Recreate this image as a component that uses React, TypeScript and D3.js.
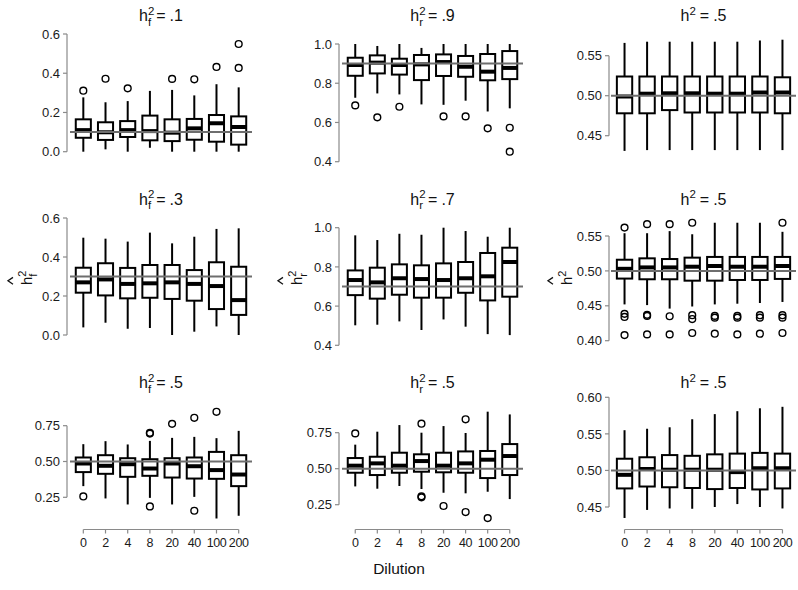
import React from 'react';
import * as d3 from 'd3';

const dilution = ['0', '2', '4', '8', '20', '40', '100', '200'];

// each box: [lower whisker, Q1, median, Q3, upper whisker]
const hf1Stats = [
  [0.000, 0.071, 0.110, 0.165, 0.277],
  [0.012, 0.060, 0.099, 0.150, 0.252],
  [0.000, 0.075, 0.110, 0.156, 0.258],
  [0.020, 0.058, 0.105, 0.184, 0.310],
  [0.000, 0.054, 0.097, 0.165, 0.315],
  [0.000, 0.061, 0.119, 0.167, 0.287],
  [0.000, 0.051, 0.145, 0.187, 0.344],
  [0.000, 0.036, 0.126, 0.180, 0.328],
];
const hf1Out = [[0.311], [0.372], [0.323], [], [0.371], [0.369], [0.432], [0.427, 0.549]];

const hr9Stats = [
  [0.726, 0.838, 0.893, 0.930, 1.000],
  [0.748, 0.850, 0.905, 0.942, 0.990],
  [0.743, 0.844, 0.893, 0.925, 1.000],
  [0.692, 0.816, 0.896, 0.944, 0.980],
  [0.690, 0.837, 0.908, 0.947, 1.000],
  [0.711, 0.833, 0.884, 0.939, 1.000],
  [0.656, 0.815, 0.859, 0.949, 1.000],
  [0.672, 0.821, 0.878, 0.964, 1.000],
];
const hr9Out = [[0.687], [0.626], [0.680], [], [0.631], [0.631], [0.570], [0.573, 0.451]];

const h2aStats = [
  [0.431, 0.478, 0.499, 0.524, 0.566],
  [0.432, 0.478, 0.5025, 0.524, 0.5675],
  [0.432, 0.482, 0.503, 0.524, 0.5675],
  [0.432, 0.479, 0.503, 0.524, 0.5675],
  [0.432, 0.479, 0.5025, 0.524, 0.5675],
  [0.432, 0.479, 0.5025, 0.524, 0.5675],
  [0.432, 0.479, 0.504, 0.524, 0.569],
  [0.432, 0.478, 0.504, 0.523, 0.570],
];
const h2aOut = [[], [], [], [], [], [], [], []];

const hf3Stats = [
  [0.039, 0.217, 0.270, 0.345, 0.499],
  [0.063, 0.203, 0.285, 0.368, 0.494],
  [0.032, 0.188, 0.262, 0.344, 0.479],
  [0.036, 0.191, 0.265, 0.359, 0.525],
  [0.000, 0.185, 0.270, 0.359, 0.470],
  [0.017, 0.176, 0.262, 0.333, 0.504],
  [0.044, 0.133, 0.251, 0.373, 0.544],
  [0.000, 0.103, 0.179, 0.350, 0.547],
];
const hf3Out = [[], [], [], [], [], [], [], []];

const hr7Stats = [
  [0.502, 0.656, 0.733, 0.782, 0.961],
  [0.505, 0.638, 0.721, 0.796, 0.937],
  [0.522, 0.658, 0.742, 0.813, 0.969],
  [0.478, 0.643, 0.738, 0.808, 0.964],
  [0.532, 0.643, 0.733, 0.818, 1.000],
  [0.495, 0.668, 0.742, 0.825, 0.983],
  [0.457, 0.629, 0.752, 0.871, 0.954],
  [0.452, 0.648, 0.825, 0.898, 1.000],
];
const hr7Out = [[], [], [], [], [], [], [], []];

const h2bStats = [
  [0.452, 0.489, 0.503, 0.516, 0.554],
  [0.451, 0.488, 0.505, 0.518, 0.554],
  [0.446, 0.488, 0.505, 0.517, 0.557],
  [0.449, 0.486, 0.506, 0.519, 0.5525],
  [0.452, 0.486, 0.507, 0.520, 0.569],
  [0.453, 0.487, 0.506, 0.520, 0.569],
  [0.454, 0.487, 0.506, 0.520, 0.569],
  [0.4555, 0.4885, 0.507, 0.520, 0.556],
];
const h2bOut = [
  [0.562, 0.4385, 0.434, 0.408],
  [0.567, 0.437, 0.4355, 0.409],
  [0.567, 0.435, 0.409],
  [0.569, 0.4365, 0.431, 0.411],
  [0.4355, 0.433, 0.410],
  [0.4355, 0.433, 0.409],
  [0.4365, 0.433, 0.410],
  [0.569, 0.4365, 0.433, 0.411],
];

const hf5Stats = [
  [0.328, 0.426, 0.486, 0.528, 0.621],
  [0.242, 0.414, 0.470, 0.544, 0.642],
  [0.200, 0.393, 0.481, 0.523, 0.619],
  [0.246, 0.400, 0.451, 0.516, 0.644],
  [0.200, 0.388, 0.486, 0.523, 0.665],
  [0.253, 0.381, 0.467, 0.528, 0.672],
  [0.102, 0.379, 0.440, 0.567, 0.663],
  [0.121, 0.328, 0.409, 0.544, 0.714],
];
const hf5Out = [[0.256], [], [], [0.700, 0.695, 0.186], [0.763], [0.805, 0.156], [0.847], []];

const hr5Stats = [
  [0.377, 0.472, 0.521, 0.574, 0.667],
  [0.361, 0.456, 0.537, 0.583, 0.757],
  [0.380, 0.472, 0.521, 0.611, 0.803],
  [0.359, 0.479, 0.553, 0.600, 0.750],
  [0.333, 0.475, 0.521, 0.611, 0.796],
  [0.329, 0.472, 0.537, 0.620, 0.748],
  [0.340, 0.435, 0.5625, 0.623, 0.896],
  [0.289, 0.456, 0.588, 0.671, 0.877],
];
const hr5Out = [[0.745], [], [], [0.8125, 0.308, 0.301], [0.241], [0.843, 0.199], [0.157], []];

const h2cStats = [
  [0.435, 0.4754, 0.494, 0.516, 0.555],
  [0.446, 0.478, 0.502, 0.518, 0.557],
  [0.448, 0.477, 0.501, 0.521, 0.559],
  [0.4476, 0.476, 0.501, 0.520, 0.570],
  [0.450, 0.4745, 0.501, 0.522, 0.577],
  [0.454, 0.476, 0.4977, 0.523, 0.581],
  [0.450, 0.474, 0.503, 0.524, 0.585],
  [0.448, 0.4754, 0.503, 0.523, 0.587],
];
const h2cOut = [[], [], [], [], [], [], [], []];

const ticksF = [0, 0.2, 0.4, 0.6];
const ticksR = [0.4, 0.6, 0.8, 1.0];
const ticksH1 = [0.45, 0.5, 0.55];
const ticksH2 = [0.4, 0.45, 0.5, 0.55];
const ticksQ = [0.25, 0.5, 0.75];
const ticksH3 = [0.45, 0.5, 0.55, 0.6];

const panels = [
  { stats: hf1Stats, out: hf1Out, truth: 0.1, ticks: ticksF, fmt: '.1f', sub: 'f', label: '.1' },
  { stats: hr9Stats, out: hr9Out, truth: 0.9, ticks: ticksR, fmt: '.1f', sub: 'r', label: '.9' },
  { stats: h2aStats, out: h2aOut, truth: 0.5, ticks: ticksH1, fmt: '.2f', sub: '', label: '.5' },
  { stats: hf3Stats, out: hf3Out, truth: 0.3, ticks: ticksF, fmt: '.1f', sub: 'f', label: '.3' },
  { stats: hr7Stats, out: hr7Out, truth: 0.7, ticks: ticksR, fmt: '.1f', sub: 'r', label: '.7' },
  { stats: h2bStats, out: h2bOut, truth: 0.5, ticks: ticksH2, fmt: '.2f', sub: '', label: '.5' },
  { stats: hf5Stats, out: hf5Out, truth: 0.5, ticks: ticksQ, fmt: '.2f', sub: 'f', label: '.5' },
  { stats: hr5Stats, out: hr5Out, truth: 0.5, ticks: ticksQ, fmt: '.2f', sub: 'r', label: '.5' },
  { stats: h2cStats, out: h2cOut, truth: 0.5, ticks: ticksH3, fmt: '.2f', sub: '', label: '.5' },
];

// layout
const W = 798;
const H = 590;
const FONT = "'Liberation Sans', Arial, Helvetica, sans-serif";
const cols = [
  { l: 70, r: 252, ax: 67 },
  { l: 342, r: 523, ax: 339 },
  { l: 611, r: 796, ax: 609 },
];
// pixel y of lowest and highest tick in each panel
const tickPx = [
  [151.7, 34], [161.7, 44], [135.7, 55.7],
  [335, 218], [345.3, 227.7], [340.7, 236],
  [497.3, 425.7], [504.7, 432.7], [507, 397.3],
];
const titleY = [21, 204.5, 388];
const xAxisY = 529.5;
const yLabelX = [32, 302, 572];
const yLabelY = 279;

function Heading({ sub, size, supSize }) {
  // h with superscript 2 and optional subscript stacked under it
  const shift = supSize * 0.55;
  return (
    <>
      <tspan fontSize={size}>h</tspan>
      <tspan fontSize={supSize} dy={-shift}>2</tspan>
      {sub ? (
        <tspan fontSize={supSize} dx={-supSize * 0.556} dy={shift * 1.75}>{sub}</tspan>
      ) : null}
    </>
  );
}

function Title({ cx, y, sub, label }) {
  const supSize = 11.5;
  const back = sub ? -supSize * 0.55 * 0.75 : supSize * 0.55;
  return (
    <text x={cx} y={y} textAnchor="middle" fontFamily={FONT} fill="#111">
      <Heading sub={sub} size={16} supSize={supSize} />
      <tspan fontSize={16} dx={sub ? 5 : 4} dy={back}>=</tspan>
      <tspan fontSize={16} dx={4}>{label}</tspan>
    </text>
  );
}

function HatLabel({ x, y, sub }) {
  const start = -6;
  const hc = start + 4.2;
  return (
    <g transform={`translate(${x},${y}) rotate(-90)`}>
      <path
        d={`M${hc - 3.4},-19 L${hc},-24 L${hc + 3.4},-19`}
        fill="none"
        stroke="#111"
        strokeWidth={1.3}
      />
      <text x={start} y={0} fontFamily={FONT} fill="#111">
        <Heading sub={sub} size={15} supSize={11} />
      </text>
    </g>
  );
}

function BoxPanel({ p, i }) {
  const col = cols[i % 3];
  const row = Math.floor(i / 3);
  const x = d3.scalePoint().domain(dilution).range([col.l, col.r]).padding(0.6);
  const lastTick = p.ticks[p.ticks.length - 1];
  const y = d3.scaleLinear().domain([p.ticks[0], lastTick]).range(tickPx[i]);
  const bw = x.step() * 0.68;
  const fmt = d3.format(p.fmt);
  const cxs = dilution.map((d) => x(d));

  return (
    <g>
      <line x1={col.ax} x2={col.ax} y1={y(p.ticks[0])} y2={y(lastTick)} stroke="#8a8a8a" strokeWidth={1.2} />
      {p.ticks.map((t) => (
        <g key={t}>
          <line x1={col.ax - 4} x2={col.ax} y1={y(t)} y2={y(t)} stroke="#8a8a8a" strokeWidth={1.2} />
          <text x={col.ax - 7} y={y(t)} dy="0.36em" textAnchor="end" fontSize={13} fontFamily={FONT} fill="#1a1a1a">
            {fmt(t)}
          </text>
        </g>
      ))}

      {p.stats.map((s, j) => {
        const cx = cxs[j];
        const [lo, q1, med, q3, hi] = s;
        return (
          <g key={j}>
            <line x1={cx} x2={cx} y1={y(q3)} y2={y(hi)} stroke="#000" strokeWidth={2} />
            <line x1={cx} x2={cx} y1={y(q1)} y2={y(lo)} stroke="#000" strokeWidth={2} />
            <rect x={cx - bw / 2} y={y(q3)} width={bw} height={y(q1) - y(q3)} fill="#fff" stroke="#000" strokeWidth={2} />
            <line x1={cx - bw / 2} x2={cx + bw / 2} y1={y(med)} y2={y(med)} stroke="#000" strokeWidth={4} />
            {p.out[j].map((o, k) => (
              <circle key={k} cx={cx} cy={y(o)} r={3.4} fill="none" stroke="#000" strokeWidth={1.4} />
            ))}
          </g>
        );
      })}

      <line x1={col.l} x2={col.r} y1={y(p.truth)} y2={y(p.truth)} stroke="#6e6e6e" strokeWidth={2} />

      <Title cx={(col.l + col.r) / 2} y={titleY[row]} sub={p.sub} label={p.label} />

      {row === 2 ? (
        <g>
          <line x1={cxs[0]} x2={cxs[cxs.length - 1]} y1={xAxisY} y2={xAxisY} stroke="#8a8a8a" strokeWidth={1.2} />
          {dilution.map((d, j) => (
            <g key={d}>
              <line x1={cxs[j]} x2={cxs[j]} y1={xAxisY} y2={xAxisY + 4} stroke="#8a8a8a" strokeWidth={1.2} />
              <text
                x={cxs[j]}
                y={xAxisY + 17}
                textAnchor="middle"
                fontSize={12.5}
                letterSpacing={-0.4}
                fontFamily={FONT}
                fill="#1a1a1a"
              >
                {d}
              </text>
            </g>
          ))}
        </g>
      ) : null}
    </g>
  );
}

export default function App() {
  return (
    <svg
      width={W}
      height={H}
      viewBox={`0 0 ${W} ${H}`}
      style={{ position: 'absolute', left: 0, top: 0, background: '#fff' }}
    >
      <rect width={W} height={H} fill="#fff" />
      {panels.map((p, i) => (
        <BoxPanel key={i} p={p} i={i} />
      ))}
      {panels.slice(3, 6).map((p, c) => (
        <HatLabel key={c} x={yLabelX[c]} y={yLabelY} sub={p.sub} />
      ))}
      <text x={W / 2} y={574} textAnchor="middle" fontSize={15.5} fontFamily={FONT} fill="#111">
        Dilution
      </text>
    </svg>
  );
}
